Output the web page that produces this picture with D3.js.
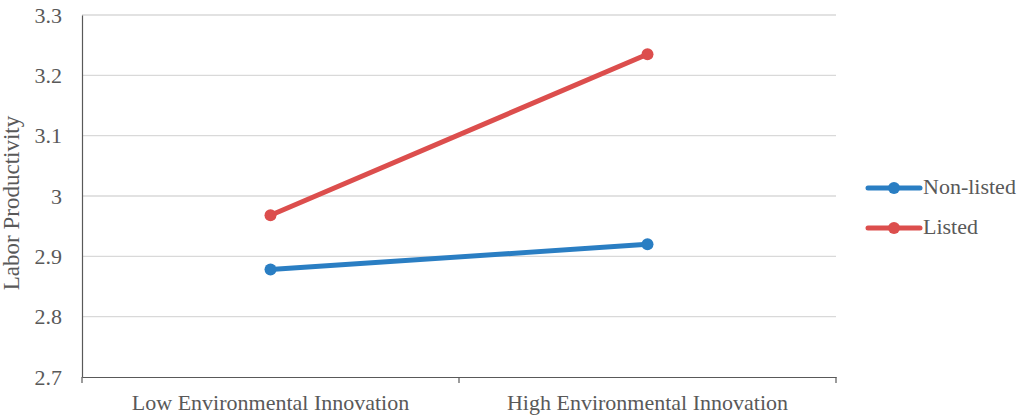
<!DOCTYPE html>
<html>
<head>
<meta charset="utf-8">
<script src="https://cdn.jsdelivr.net/npm/d3@7"></script>
<style>
  body { margin: 0; background: #fff; }
  svg text { font-family: "Liberation Serif", "Times New Roman", serif !important; fill: #595959; }
</style>
</head>
<body>
<div id="chart"></div>
<script>
// Chart data
const categories = ["Low Environmental Innovation", "High Environmental Innovation"];
const seriesNames = ["Non-listed", "Listed"];
const nonListed = [2.878, 2.920];
const listed = [2.968, 3.235];
const yTicks = [2.7, 2.8, 2.9, 3, 3.1, 3.2, 3.3];

const colors = {"Non-listed": "#2a7ec3", "Listed": "#dc4e4d"};

const totalWidth = 1024, totalHeight = 420;
const margin = {top: 15, right: 188, bottom: 43, left: 82};
const width = totalWidth - margin.left - margin.right;
const height = totalHeight - margin.top - margin.bottom;

const svg = d3.select("#chart").append("svg")
  .attr("width", totalWidth)
  .attr("height", totalHeight);

const g = svg.append("g").attr("transform", `translate(${margin.left}, ${margin.top})`);

const x = d3.scaleBand().domain(categories).range([0, width]);
const y = d3.scaleLinear().domain([2.7, 3.3]).range([height, 0]);

// Gridlines
g.selectAll(".grid").data(yTicks.slice(1)).join("line")
  .attr("x1", 0).attr("x2", width)
  .attr("y1", d => y(d)).attr("y2", d => y(d))
  .attr("stroke", "#d9d9d9").attr("stroke-width", 1.3);

// Y axis
const yAxis = g.append("g")
  .attr("font-family", "Liberation Serif").attr("font-size", 22)
  .call(d3.axisLeft(y).tickValues(yTicks).tickFormat(d => d3.format("")(d)).tickSize(0).tickPadding(20));
yAxis.attr("font-family", "Liberation Serif").attr("font-size", 22);
yAxis.select(".domain").attr("stroke", "#595959").attr("stroke-width", 1.2);
yAxis.selectAll("text").attr("fill", "#595959");

// X axis
const xAxis = g.append("g").attr("transform", `translate(0, ${height})`)
  .call(d3.axisBottom(x).tickSize(0).tickPadding(17));
xAxis.attr("font-family", "Liberation Serif").attr("font-size", 22);
xAxis.select(".domain").attr("stroke", "#595959").attr("stroke-width", 1.2);
xAxis.selectAll("text").attr("fill", "#595959");
// category boundary ticks
g.selectAll(".xtick").data([0, 1, 2]).join("line")
  .attr("x1", i => i * x.bandwidth()).attr("x2", i => i * x.bandwidth())
  .attr("y1", height).attr("y2", height + 6)
  .attr("stroke", "#595959").attr("stroke-width", 1.2);

// Y axis title
svg.append("text")
  .attr("transform", `translate(14, ${margin.top + height / 2 + 7}) rotate(-90)`)
  .attr("text-anchor", "middle")
  .attr("dominant-baseline", "middle")
  .attr("font-size", 23)
  .text("Labor Productivity");

// Lines
const series = [
  {name: "Non-listed", values: nonListed},
  {name: "Listed", values: listed}
];
const line = d3.line()
  .x((d, i) => x(categories[i]) + x.bandwidth() / 2)
  .y(d => y(d));

series.forEach(s => {
  g.append("path").datum(s.values)
    .attr("d", line)
    .attr("fill", "none")
    .attr("stroke", colors[s.name])
    .attr("stroke-width", 5)
    .attr("stroke-linecap", "round");
  g.selectAll(null).data(s.values).join("circle")
    .attr("cx", (d, i) => x(categories[i]) + x.bandwidth() / 2)
    .attr("cy", d => y(d))
    .attr("r", 6)
    .attr("fill", colors[s.name]);
});

// Legend
const legend = svg.append("g").attr("transform", "translate(868, 188)");
seriesNames.forEach((name, i) => {
  const row = legend.append("g").attr("transform", `translate(0, ${i * 40})`);
  row.append("line").attr("x1", 0).attr("x2", 52).attr("y1", 0).attr("y2", 0)
    .attr("stroke", colors[name]).attr("stroke-width", 5).attr("stroke-linecap", "round");
  row.append("circle").attr("cx", 26).attr("cy", 0).attr("r", 6).attr("fill", colors[name]);
  row.append("text").attr("x", 55).attr("y", 1).attr("dominant-baseline", "middle")
    .attr("font-size", 22).text(name);
});
</script>
</body>
</html>
